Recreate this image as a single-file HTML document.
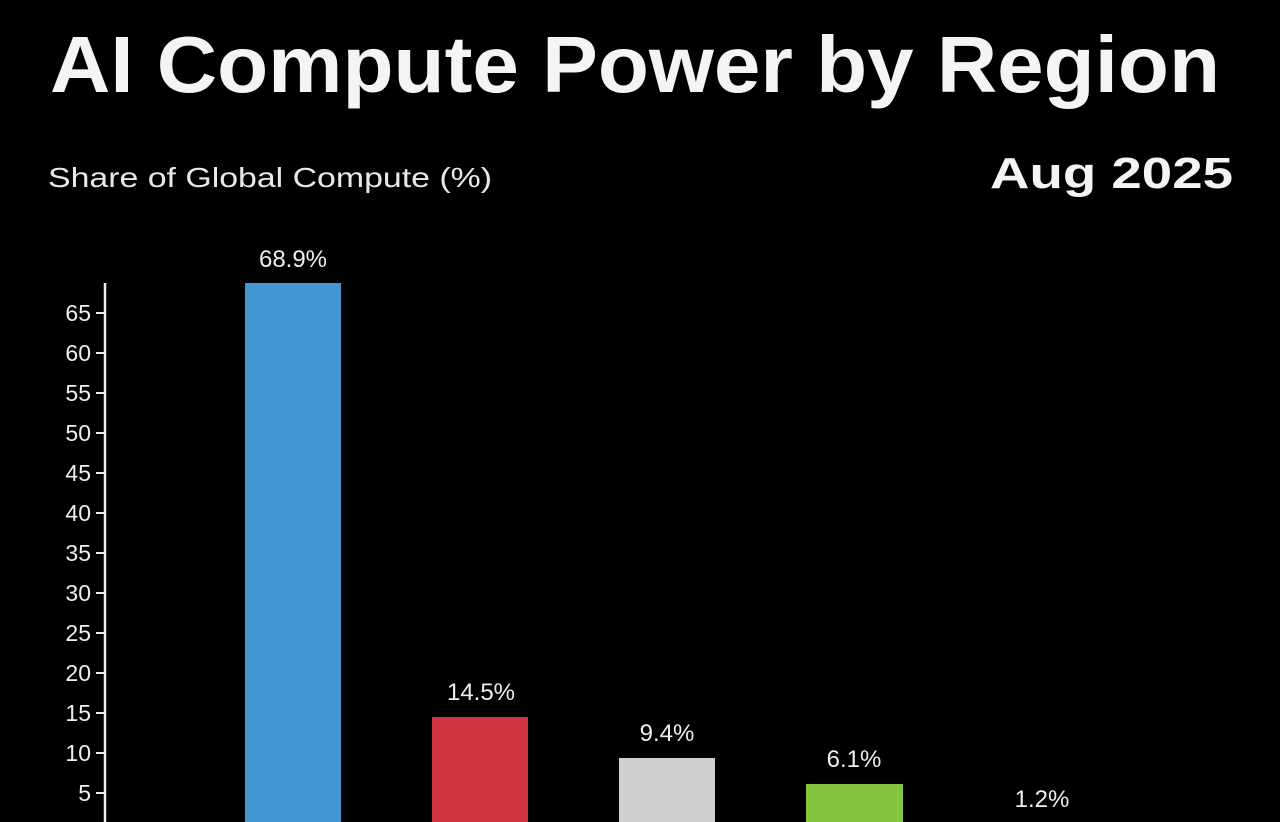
<!DOCTYPE html>
<html><head><style>body{margin:0;background:#000}svg{display:block}</style></head>
<body>
<svg width="1280" height="822" viewBox="0 0 1280 822" xmlns="http://www.w3.org/2000/svg" font-family="Liberation Sans, sans-serif">
<rect width="1280" height="822" fill="#000"/>
<text x="50" y="92" font-size="80" font-weight="bold" fill="#f4f4f4" textLength="1170" lengthAdjust="spacingAndGlyphs">AI Compute Power by Region</text>
<text x="48" y="187" font-size="28" fill="#e8e8e8" textLength="444" lengthAdjust="spacingAndGlyphs">Share of Global Compute (%)</text>
<text x="990" y="188" font-size="44" font-weight="bold" fill="#f4f4f4" textLength="243" lengthAdjust="spacingAndGlyphs">Aug 2025</text>
<line x1="105" y1="283" x2="105" y2="822" stroke="#eee" stroke-width="2.5"/>
<g stroke="#eee" stroke-width="2">
<line x1="96" y1="313" x2="105" y2="313"/><line x1="96" y1="353" x2="105" y2="353"/><line x1="96" y1="393" x2="105" y2="393"/><line x1="96" y1="433" x2="105" y2="433"/><line x1="96" y1="473" x2="105" y2="473"/><line x1="96" y1="513" x2="105" y2="513"/><line x1="96" y1="553" x2="105" y2="553"/><line x1="96" y1="593" x2="105" y2="593"/><line x1="96" y1="633" x2="105" y2="633"/><line x1="96" y1="673" x2="105" y2="673"/><line x1="96" y1="713" x2="105" y2="713"/><line x1="96" y1="753" x2="105" y2="753"/><line x1="96" y1="793" x2="105" y2="793"/>
</g>
<g font-size="23" fill="#eee" text-anchor="end">
<text x="91" y="321">65</text><text x="91" y="361">60</text><text x="91" y="401">55</text><text x="91" y="441">50</text><text x="91" y="481">45</text><text x="91" y="521">40</text><text x="91" y="561">35</text><text x="91" y="601">30</text><text x="91" y="641">25</text><text x="91" y="681">20</text><text x="91" y="721">15</text><text x="91" y="761">10</text><text x="91" y="801">5</text>
</g>
<rect x="245" y="283" width="96" height="550" fill="#4398d3"/>
<rect x="432" y="717" width="96" height="120" fill="#cf3440"/>
<rect x="619" y="758" width="96" height="80" fill="#cfcfd1"/>
<rect x="806" y="784" width="97" height="60" fill="#86c540"/>
<g font-size="24" fill="#eee" text-anchor="middle">
<text x="293" y="267">68.9%</text>
<text x="481" y="700">14.5%</text>
<text x="667" y="741">9.4%</text>
<text x="854" y="767">6.1%</text>
<text x="1042" y="807">1.2%</text>
</g>
</svg>
</body></html>
